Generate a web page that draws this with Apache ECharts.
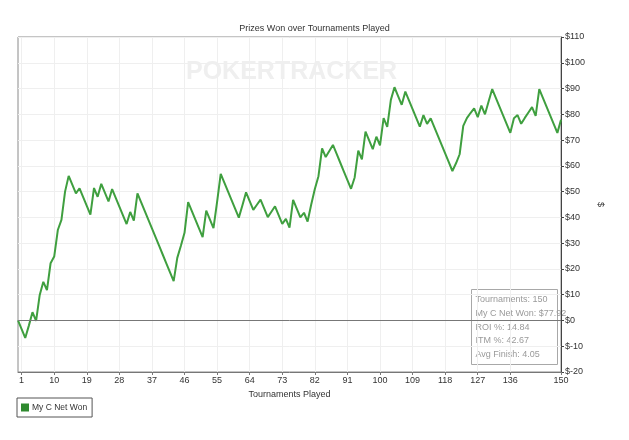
<!DOCTYPE html>
<html>
<head>
<meta charset="utf-8">
<script src="https://cdn.jsdelivr.net/npm/echarts@6/dist/echarts.min.js"></script>
<style>
html,body{margin:0;padding:0;background:#fff;}
#chart{width:629px;height:440px;}
</style>
</head>
<body>
<div id="chart"></div>
<script>
// Tournament index 0..150 (0 = before the first tournament)
var tournaments = [];
for (var i = 0; i <= 150; i++) tournaments.push(String(i));

// Cumulative net won ($) after each tournament
var netWon = [
  0, -3.4, -6.8, -2.0, 3.2, -0.2, 9.9, 15.0, 11.8, 22.2,
  24.8, 35.1, 39.0, 50.0, 56.1, 52.7, 49.3, 51.3, 47.9, 44.5,
  41.1, 51.4, 48.0, 53.0, 49.6, 46.2, 51.0, 47.6, 44.2, 40.8,
  37.4, 42.1, 38.7, 49.3, 45.9, 42.5, 39.1, 35.7, 32.3, 28.9,
  25.5, 22.1, 18.7, 15.3, 24.3, 29.0, 34.0, 45.9, 42.5, 39.1,
  35.7, 32.3, 42.6, 39.2, 35.8, 46.0, 56.9, 53.5, 50.1, 46.7,
  43.3, 39.9, 44.7, 49.7, 46.3, 42.9, 44.9, 46.9, 43.5, 40.1,
  42.2, 44.3, 40.9, 37.5, 39.4, 36.0, 46.8, 43.4, 40.0, 41.8,
  38.4, 45.0, 51.0, 56.0, 66.8, 63.4, 65.8, 68.1, 64.7, 61.3,
  57.9, 54.5, 51.1, 55.5, 65.9, 62.5, 73.3, 69.9, 66.5, 71.3,
  67.9, 78.5, 75.1, 85.6, 90.5, 87.1, 83.7, 88.8, 85.4, 82.0,
  78.6, 75.2, 79.7, 76.3, 78.4, 75.0, 71.6, 68.2, 64.8, 61.4,
  58.0, 61.0, 64.5, 75.5, 78.5, 80.5, 82.3, 78.9, 83.4, 80.0,
  85.0, 89.8, 86.4, 83.0, 79.6, 76.2, 72.8, 78.5, 79.7, 76.3,
  78.6, 80.7, 82.8, 79.4, 89.8, 86.4, 83.0, 79.6, 76.2, 72.8,
  77.92
];

// Tick labels shown on the x axis
var xTickLabels = [1, 10, 19, 28, 37, 46, 55, 64, 73, 82, 91, 100, 109, 118, 127, 136, 150];

// Summary box lines
var statsLines = [
  'Tournaments: 150',
  'My C Net Won: $77.92',
  'ROI %: 14.84',
  'ITM %: 42.67',
  'Avg Finish: 4.05'
];

var FONT = 'Liberation Sans, Arial, sans-serif';
function showTick(idx) { return xTickLabels.indexOf(idx) !== -1; }

var chart = echarts.init(document.getElementById('chart'));

var statsChildren = [{
  type: 'rect',
  shape: { x: 0, y: 0, width: 86, height: 75 },
  style: { fill: 'rgba(255,255,255,0.55)', stroke: '#a8a8a8', lineWidth: 1 }
}];
statsLines.forEach(function (t, k) {
  statsChildren.push({
    type: 'text',
    x: 4, y: 10 + k * 13.8,
    style: { text: t, fill: '#9a9a9a', font: '9px ' + FONT, textVerticalAlign: 'middle' }
  });
});

chart.setOption({
  animation: false,
  title: {
    text: 'Prizes Won over Tournaments Played',
    left: 'center',
    top: 19,
    textStyle: { fontSize: 9, fontWeight: 'normal', color: '#333', fontFamily: FONT }
  },
  grid: {
    left: 18, right: 68, top: 37, bottom: 68,
    show: true, borderColor: '#8a8a8a', borderWidth: 1, backgroundColor: 'transparent'
  },
  legend: {
    left: 17, top: 398,
    padding: [5, 5, 5, 4],
    borderColor: '#555', borderWidth: 1,
    icon: 'rect', itemWidth: 8, itemHeight: 8, itemGap: 4,
    textStyle: { fontSize: 8.5, color: '#333', fontFamily: FONT, padding: [0, 0, 0, -2] },
    data: ['My C Net Won']
  },
  xAxis: {
    type: 'category',
    data: tournaments,
    boundaryGap: false,
    name: 'Tournaments Played',
    nameLocation: 'middle',
    nameGap: 17,
    nameTextStyle: { fontSize: 9, color: '#333', fontFamily: FONT },
    axisLine: { onZero: false, lineStyle: { color: '#777' } },
    axisTick: { show: true, interval: function (idx) { return showTick(idx); }, length: 3, lineStyle: { color: '#777' } },
    axisLabel: {
      interval: function (idx) { return showTick(idx); },
      fontSize: 9, color: '#333', fontFamily: FONT, margin: 4
    },
    splitLine: { show: true, interval: function (idx) { return showTick(idx); }, lineStyle: { color: '#efefef' } }
  },
  yAxis: {
    type: 'value',
    position: 'right',
    min: -20, max: 110, interval: 10,
    name: '$',
    nameLocation: 'middle',
    nameGap: 34,
    nameRotate: -90,
    nameTextStyle: { fontSize: 9, color: '#333', fontFamily: FONT },
    axisLine: { show: true, lineStyle: { color: '#444' } },
    axisTick: { show: true, length: 3, lineStyle: { color: '#444' } },
    axisLabel: {
      formatter: function (v) { return '$' + v; },
      fontSize: 9, color: '#333', fontFamily: FONT, margin: 4
    },
    splitLine: { show: true, lineStyle: { color: '#efefef' } }
  },
  graphic: [
    {
      type: 'text', left: 186, top: 60, z: 0,
      style: { text: 'POKERTRACKER', fill: '#efefef', font: 'bold 25px ' + FONT }
    },
    {
      type: 'group', left: 471, top: 289, z: 10,
      children: statsChildren
    }
  ],
  series: [{
    name: 'My C Net Won',
    type: 'line',
    data: netWon,
    symbol: 'none',
    clip: false,
    itemStyle: { color: '#2f8a2f' },
    lineStyle: { color: '#3f9f3f', width: 2 },
    markLine: {
      silent: true,
      symbol: 'none',
      label: { show: false },
      lineStyle: { color: '#777', width: 1, type: 'solid' },
      data: [{ yAxis: 0 }]
    }
  }]
});
</script>
</body>
</html>
